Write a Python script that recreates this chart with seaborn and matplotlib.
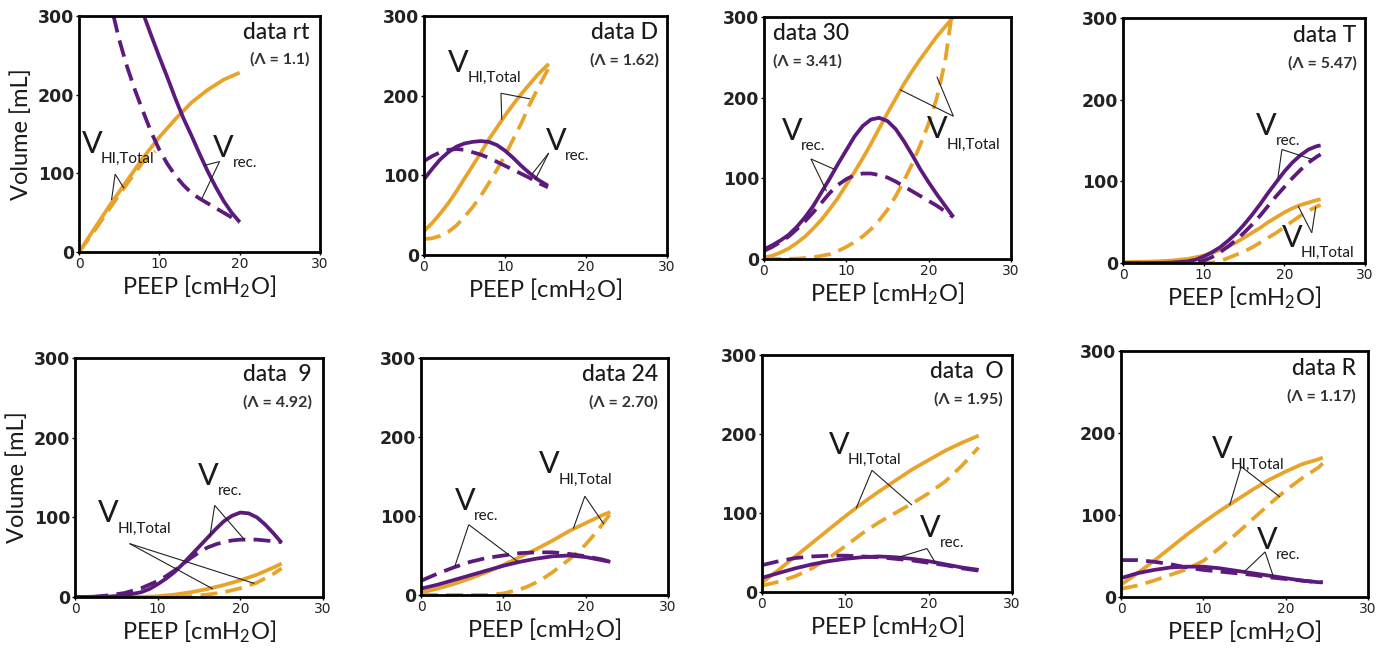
import numpy as np
import pandas as pd
import matplotlib
matplotlib.use("Agg")
import matplotlib.pyplot as plt
import seaborn as sns

sns.set_theme(style="white")
plt.rcParams["font.family"] = ["Lato", "DejaVu Sans"]
plt.rcParams["mathtext.fontset"] = "custom"
plt.rcParams["mathtext.rm"] = "Lato"
plt.rcParams["mathtext.it"] = "Lato"

PURPLE = "#5b1a7c"
ORANGE = "#e8a42a"

# ---------------------------------------------------------------- data
titles = ["data rt", "data D", "data 30", "data T",
          "data  9", "data 24", "data  O", "data R"]
lambdas = ["(\u039b = 1.1)", "(\u039b = 1.62)", "(\u039b = 3.41)", "(\u039b = 5.47)",
           "(\u039b = 4.92)", "(\u039b = 2.70)", "(\u039b = 1.95)", "(\u039b = 1.17)"]

# data rt
rt_hi_x = [0, 2, 4, 6, 8, 10, 12, 14, 16, 18, 20]
rt_hi_y = [0, 31, 62, 91, 120, 146, 169, 190, 206, 219, 228]
rt_hid_x = [0, 2, 4, 6, 8, 9.5]
rt_hid_y = [0, 28, 58, 87, 115, 128]
rt_rec_x = [8.1, 9, 10, 11, 12, 13, 14, 15, 16, 17, 18, 19, 20]
rt_rec_y = [300, 275, 248, 222, 195, 170, 148, 125, 103, 83, 65, 50, 38]
rt_recd_x = [4.3, 5, 6, 7, 8, 9, 10, 11, 12, 13, 14, 15, 16, 17, 18, 19, 20]
rt_recd_y = [300, 270, 235, 205, 178, 152, 130, 112, 97, 85, 75, 68, 62, 56, 50, 44, 38]

# data D
d_hi_x = [0, 1, 2, 3, 4, 5, 6, 7, 8, 9, 10, 11, 12, 13, 14, 15.4]
d_hi_y = [30, 40, 52, 65, 80, 96, 112, 128, 145, 160, 175, 189, 202, 214, 226, 240]
d_hid_x = [0, 1, 2, 3, 4, 5, 6, 7, 8, 9, 10, 11, 12, 13, 14, 15.4]
d_hid_y = [20, 21, 24, 29, 37, 48, 60, 74, 90, 107, 125, 145, 165, 188, 208, 235]
d_rec_x = [0, 1, 2, 3, 4, 5, 6, 7, 8, 9, 10, 11, 12, 13, 14, 15.3]
d_rec_y = [95, 108, 120, 129, 136, 140, 142, 143, 142, 138, 131, 122, 112, 103, 95, 87]
d_recd_x = [0, 1, 2, 3, 4, 5, 6, 7, 8, 9, 10, 11, 12, 13, 14, 15.3]
d_recd_y = [118, 124, 129, 132, 133, 132, 129, 126, 122, 117, 112, 107, 102, 97, 91, 85]

# data 30
d30_hi_x = [0, 1, 2, 3, 4, 5, 6, 7, 8, 9, 10, 11, 12, 13, 14, 15, 16, 17, 18, 19, 20, 21, 22, 23]
d30_hi_y = [2, 4, 8, 13, 20, 28, 38, 49, 62, 76, 92, 108, 125, 143, 162, 181, 199, 217,
            233, 248, 262, 276, 288, 300]
d30_hid_x = [0, 2, 4, 6, 8, 9, 10, 11, 12, 13, 14, 15, 16, 17, 18, 19, 20, 21, 22, 22.7]
d30_hid_y = [0, 0, 0.5, 2, 6, 10, 15, 21, 28, 37, 48, 61, 78, 97, 118, 142, 168, 200, 245, 295]
d30_rec_x = [0, 1, 2, 3, 4, 5, 6, 7, 8, 9, 10, 11, 12, 13, 14, 15, 16, 17, 18, 19, 20, 21, 22, 23]
d30_rec_y = [12, 17, 23, 30, 40, 52, 66, 83, 100, 118, 135, 152, 165, 173, 175, 171,
             161, 146, 129, 111, 95, 80, 66, 52]
d30_recd_x = [0, 1, 2, 3, 4, 5, 6, 7, 8, 9, 10, 11, 12, 13, 14, 15, 16, 17, 18, 19, 20, 21, 22, 23]
d30_recd_y = [10, 15, 21, 28, 37, 47, 58, 70, 82, 92, 99, 104, 106, 106, 104, 101,
              96, 90, 84, 78, 72, 66, 59, 52]

# data T
t_hi_x = [0, 4, 6, 8, 9, 10, 11, 12, 13, 14, 15, 16, 17, 18, 19, 20, 21, 22, 23, 24, 24.5]
t_hi_y = [1, 2, 3, 5, 7, 9, 12, 16, 20, 25, 31, 37, 43, 50, 56, 62, 67, 71, 74, 77, 78]
t_hid_x = [0, 10, 11, 12, 13, 14, 15, 16, 17, 18, 19, 20, 21, 22, 23, 24, 24.5]
t_hid_y = [0, 0, 0.5, 2, 6, 10, 14, 19, 25, 31, 37, 44, 51, 58, 64, 69, 71]
t_rec_x = [0, 4, 6, 8, 9, 10, 11, 12, 13, 14, 15, 16, 17, 18, 19, 20, 21, 22, 23, 24, 24.5]
t_rec_y = [0, 0, 0.5, 2, 4, 8, 13, 19, 27, 36, 47, 59, 72, 86, 99, 112, 123, 132, 139, 143, 144]
t_recd_x = [0, 9, 10, 11, 12, 13, 14, 15, 16, 17, 18, 19, 20, 21, 22, 23, 24, 24.5]
t_recd_y = [0, 0, 3, 7, 13, 20, 28, 37, 47, 58, 70, 82, 93, 104, 114, 123, 130, 133]

# data 9
n_hi_x = [0, 8, 10, 12, 14, 16, 18, 20, 22, 24, 25]
n_hi_y = [0, 0, 1, 3, 6, 10, 15, 21, 28, 37, 42]
n_hid_x = [0, 12, 14, 16, 18, 20, 22, 24, 25]
n_hid_y = [0, 0, 1, 3, 6, 11, 18, 29, 36]
n_rec_x = [0, 4, 6, 8, 9, 10, 11, 12, 13, 14, 15, 16, 17, 18, 19, 20, 21, 22, 23, 24, 25]
n_rec_y = [0, 0.5, 2, 6, 10, 16, 23, 31, 41, 52, 63, 74, 85, 95, 102, 106, 105, 100, 91, 80, 68]
n_recd_x = [2, 4, 6, 8, 10, 11, 12, 13, 14, 15, 16, 17, 18, 19, 20, 21, 22, 23, 24, 25]
n_recd_y = [0, 2, 5, 11, 20, 26, 33, 41, 49, 56, 62, 66, 69, 71, 72, 72, 72, 71, 70, 69]

# data 24
f_hi_x = [0, 2, 4, 6, 8, 10, 12, 14, 16, 18, 20, 22, 23]
f_hi_y = [3, 8, 14, 21, 29, 38, 48, 58, 69, 81, 91, 101, 105]
f_hid_x = [0, 8, 10, 12, 13, 14, 15, 16, 17, 18, 19, 20, 21, 22, 23]
f_hid_y = [0, 0, 2, 7, 11, 16, 22, 29, 37, 45, 54, 64, 76, 89, 103]
f_rec_x = [0, 2, 4, 6, 8, 10, 12, 14, 16, 18, 20, 22, 23]
f_rec_y = [8, 13, 19, 25, 31, 37, 42, 46, 49, 50, 48, 44, 42]
f_recd_x = [0, 2, 4, 6, 8, 10, 12, 14, 16, 18, 20, 22, 23]
f_recd_y = [18, 27, 35, 42, 47, 50, 53, 54, 54, 52, 49, 45, 42]

# data O
o_hi_x = [0, 2, 4, 6, 8, 10, 12, 14, 16, 18, 20, 22, 24, 26]
o_hi_y = [12, 28, 45, 62, 79, 96, 112, 127, 141, 155, 167, 179, 189, 198]
o_hid_x = [0, 2, 4, 6, 8, 10, 12, 14, 16, 18, 20, 22, 24, 26]
o_hid_y = [8, 13, 20, 30, 43, 58, 74, 88, 100, 112, 125, 140, 160, 183]
o_rec_x = [0, 2, 4, 6, 8, 10, 12, 14, 16, 18, 20, 22, 24, 26]
o_rec_y = [18, 24, 30, 35, 39, 42, 44, 45, 44, 42, 39, 35, 31, 28]
o_recd_x = [0, 2, 4, 6, 8, 10, 12, 14, 16, 18, 20, 22, 24, 26]
o_recd_y = [34, 39, 43, 45, 46, 46, 45, 44, 42, 40, 37, 34, 30, 27]

# data R
r_hi_x = [0, 2, 4, 6, 8, 10, 12, 14, 16, 18, 20, 22, 24, 24.5]
r_hi_y = [15, 29, 44, 60, 76, 91, 105, 118, 131, 143, 153, 162, 168, 170]
r_hid_x = [0, 2, 4, 6, 8, 10, 12, 14, 16, 18, 20, 22, 24, 24.5]
r_hid_y = [10, 14, 20, 27, 34, 44, 60, 77, 95, 113, 130, 145, 158, 163]
r_rec_x = [0, 2, 4, 6, 8, 10, 12, 14, 16, 18, 20, 22, 24, 24.5]
r_rec_y = [23, 29, 33, 36, 37, 37, 35, 32, 29, 26, 23, 20, 18, 18]
r_recd_x = [0, 2, 4, 6, 8, 10, 12, 14, 16, 18, 20, 22, 24, 24.5]
r_recd_y = [45, 45, 43, 40, 36, 33, 31, 29, 27, 24, 22, 20, 18, 18]

curves = [
    (rt_hi_x, rt_hi_y, rt_hid_x, rt_hid_y, rt_rec_x, rt_rec_y, rt_recd_x, rt_recd_y),
    (d_hi_x, d_hi_y, d_hid_x, d_hid_y, d_rec_x, d_rec_y, d_recd_x, d_recd_y),
    (d30_hi_x, d30_hi_y, d30_hid_x, d30_hid_y, d30_rec_x, d30_rec_y, d30_recd_x, d30_recd_y),
    (t_hi_x, t_hi_y, t_hid_x, t_hid_y, t_rec_x, t_rec_y, t_recd_x, t_recd_y),
    (n_hi_x, n_hi_y, n_hid_x, n_hid_y, n_rec_x, n_rec_y, n_recd_x, n_recd_y),
    (f_hi_x, f_hi_y, f_hid_x, f_hid_y, f_rec_x, f_rec_y, f_recd_x, f_recd_y),
    (o_hi_x, o_hi_y, o_hid_x, o_hid_y, o_rec_x, o_rec_y, o_recd_x, o_recd_y),
    (r_hi_x, r_hi_y, r_hid_x, r_hid_y, r_rec_x, r_rec_y, r_recd_x, r_recd_y),
]

# callout labels: (V anchor x, y), leader apex, two leader ends
hi_labels = [
    ((0.3, 126), (4.5, 99), (5.6, 81), (4.05, 66)),
    ((3.0, 230), (9.5, 203), (9.6, 170), (13.1, 196)),
    ((19.8, 150), (23.0, 177), (16.5, 210), (21.0, 226)),
    ((19.65, 20), (23.4, 37), (21.7, 70), (23.9, 69)),
    ((2.8, 94), (6.6, 67), (16.7, 10), (21.7, 17)),
    ((14.3, 154), (19.9, 125), (18.5, 84), (22.2, 90)),
    ((8.0, 175), (13.2, 154), (11.3, 106), (18.0, 110)),
    ((11.0, 169), (14.6, 159), (13.2, 112), (19.3, 122)),
]
rec_labels = [
    ((16.7, 121), (17.5, 115), (15.6, 110), (15.3, 68)),
    ((15.0, 132), (15.4, 128), (13.3, 101), (13.7, 94)),
    ((2.15, 148), (5.7, 124), (8.6, 111), (7.6, 84)),
    ((16.5, 157), (19.7, 139), (19.2, 104), (23.4, 127)),
    ((14.9, 141), (16.9, 115), (16.3, 75), (20.5, 72)),
    ((4.1, 108), (5.8, 89), (4.1, 36), (11.8, 42)),
    ((19.0, 70), (19.8, 55), (16.4, 44), (20.8, 37)),
    ((16.5, 59), (17.5, 55), (15.0, 31), (18.5, 25)),
]

# panel boxes in pixels: left, right, top, bottom
W, H = 1382, 651
boxes = [
    (79, 320, 16, 252), (424, 667, 16, 255), (764, 1011, 17, 259), (1123, 1365, 18, 263),
    (75, 323, 358, 597), (421, 668, 358, 595), (762, 1012, 355, 592), (1121, 1368, 351, 597),
]
# title placement (axes fraction x, alignment)
title_pos = [(0.955, "right"), (0.965, "right"), (0.035, "left"), (0.965, "right"),
             (0.955, "right"), (0.96, "right"), (0.965, "right"), (0.95, "right")]

fig = plt.figure(figsize=(W / 100, H / 100), dpi=100)
fig.patch.set_facecolor("white")

TICKFONT = ["Liberation Sans Narrow", "DejaVu Sans"]
INK = "#1a1a1a"


def draw_curve(ax, xs, ys, color, dashed):
    df = pd.DataFrame({"PEEP": xs, "Volume": ys})
    line_kw = dict(dashes=(4.5, 2.2)) if dashed else {}
    sns.lineplot(data=df, x="PEEP", y="Volume", ax=ax, color=color, lw=2.7,
                 sort=False, estimator=None, solid_capstyle="butt",
                 dash_capstyle="butt", solid_joinstyle="round", **line_kw)


def callout(ax, spec, sub):
    (vx, vy), apex, e1, e2 = spec
    ax.text(vx, vy, "V", fontsize=22, color=INK, ha="left", va="baseline")
    ax.annotate(sub, xy=(vx, vy), xytext=(14, -7.5), textcoords="offset points",
                fontsize=11, color=INK, ha="left", va="baseline")
    for end in (e1, e2):
        ax.plot([apex[0], end[0]], [apex[1], end[1]], color="#222222", lw=0.8,
                solid_capstyle="butt")


for i, box in enumerate(boxes):
    l, r, t, b = box
    ax = fig.add_axes([l / W, 1 - b / H, (r - l) / W, (b - t) / H])
    hx, hy, hdx, hdy, rx, ry, rdx, rdy = curves[i]
    draw_curve(ax, hdx, hdy, ORANGE, True)
    draw_curve(ax, hx, hy, ORANGE, False)
    draw_curve(ax, rdx, rdy, PURPLE, True)
    draw_curve(ax, rx, ry, PURPLE, False)

    ax.set_xlim(0, 30)
    ax.set_ylim(0, 300)
    ax.set_xticks([0, 10, 20, 30])
    ax.set_yticks([0, 100, 200, 300])
    ax.set_xticklabels(["0", "10", "20", "30"], family=TICKFONT, fontsize=10)
    ax.set_yticklabels(["0", "100", "200", "300"], family=TICKFONT, fontsize=12.5,
                       fontweight="bold")
    ax.tick_params(axis="both", which="major", length=2.5, width=1, color="black",
                   pad=1, labelcolor="#222222", direction="out",
                   bottom=True, left=True)
    for sp in ax.spines.values():
        sp.set_color("black")
        sp.set_linewidth(2.0)

    ax.set_xlabel("PEEP [cmH$_2$O]", fontsize=17, color=INK, labelpad=2)
    if i in (0, 4):
        ax.set_ylabel("Volume [mL]", fontsize=17, color=INK, labelpad=4)
    else:
        ax.set_ylabel("")

    tx, ha = title_pos[i]
    ax.text(tx, 0.93, titles[i], transform=ax.transAxes, ha=ha, va="center",
            fontsize=16.5, color=INK, fontweight="medium")
    ax.text(tx, 0.815, lambdas[i], transform=ax.transAxes, ha=ha, va="center",
            fontsize=11.5, fontweight="bold", color="#333333")

    callout(ax, hi_labels[i], "HI,Total")
    callout(ax, rec_labels[i], "rec.")

fig.savefig("out.png", dpi=100, facecolor="white")
